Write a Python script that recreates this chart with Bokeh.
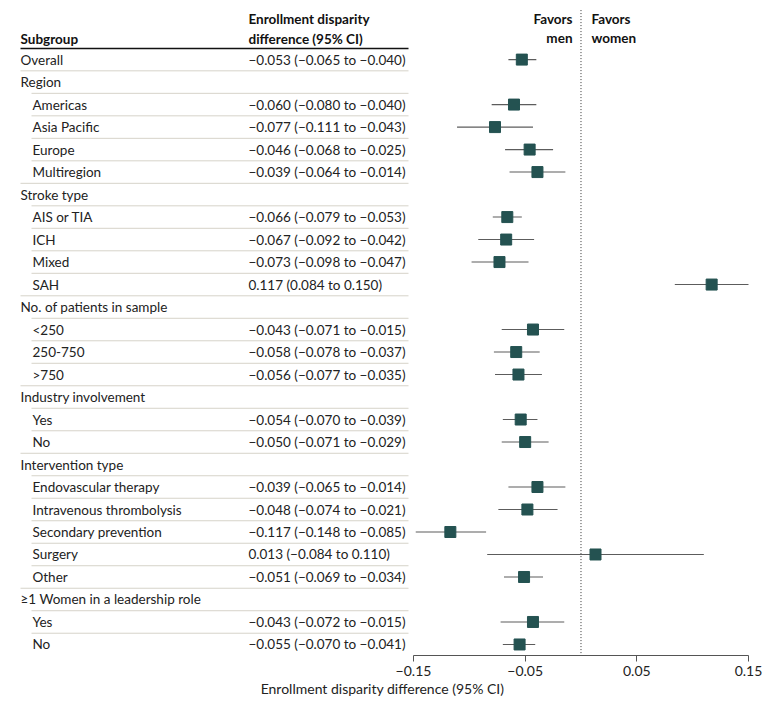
from bokeh.plotting import figure
from bokeh.models import Range1d, FixedTicker, ColumnDataSource
from bokeh.core.properties import value
from bokeh.embed import file_html
from bokeh.resources import INLINE

# ---------------- data ----------------
labels = ["Overall", "Region", "Americas", "Asia Pacific", "Europe", "Multiregion",
          "Stroke type", "AIS or TIA", "ICH", "Mixed", "SAH",
          "No. of patients in sample", "<250", "250-750", ">750",
          "Industry involvement", "Yes", "No",
          "Intervention type", "Endovascular therapy", "Intravenous thrombolysis",
          "Secondary prevention", "Surgery", "Other",
          "\u22651 Women in a leadership role", "Yes", "No"]
level = [0, 0, 1, 1, 1, 1, 0, 1, 1, 1, 1, 0, 1, 1, 1, 0, 1, 1, 0, 1, 1, 1, 1, 1, 0, 1, 1]
est = [-0.053, None, -0.060, -0.077, -0.046, -0.039, None, -0.066, -0.067, -0.073, 0.117,
       None, -0.043, -0.058, -0.056, None, -0.054, -0.050, None, -0.039, -0.048, -0.117,
       0.013, -0.051, None, -0.043, -0.055]
lo = [-0.065, None, -0.080, -0.111, -0.068, -0.064, None, -0.079, -0.092, -0.098, 0.084,
      None, -0.071, -0.078, -0.077, None, -0.070, -0.071, None, -0.065, -0.074, -0.148,
      -0.084, -0.069, None, -0.072, -0.070]
hi = [-0.040, None, -0.040, -0.043, -0.025, -0.014, None, -0.053, -0.042, -0.047, 0.150,
      None, -0.015, -0.037, -0.035, None, -0.039, -0.029, None, -0.014, -0.021, -0.085,
      0.110, -0.034, None, -0.015, -0.041]
tick_values = [-0.15, -0.05, 0.05, 0.15]
tick_labels = ["\u22120.15", "\u22120.05", "0.05", "0.15"]

# ---------------- styling constants ----------------
FONT = "Lato"
FS = "13.5px"
TXT = "#222222"
SQ = "#245251"
CI = "#5c5c5c"
SEP = "#d6d3c9"
W, H = 764, 699
Y_BOTTOM = 26.49


def fmt(v):
    return f"{v:.3f}".replace("-", "\u2212")


p = figure(width=W, height=H, output_backend="svg", toolbar_location=None,
           x_range=Range1d(-0.51985, 0.16433), y_range=Range1d(Y_BOTTOM, -2.627),
           y_axis_location=None, min_border_left=0, min_border_right=0,
           min_border_top=0, min_border_bottom=0)
p.extra_x_ranges = {"tbl": Range1d(0, 764)}
p.outline_line_color = None
p.xgrid.visible = False
p.ygrid.visible = False
p.background_fill_color = "white"
p.border_fill_color = "white"

rows = list(range(len(labels)))

# separator lines
sx0, sx1, sy = [], [], []
for r in rows[:-1]:
    sx0.append(31 if level[r + 1] == 1 else 20)
    sx1.append(408)
    sy.append(r + 0.5)
p.segment(x0=sx0, y0=sy, x1=sx1, y1=sy, x_range_name="tbl", line_color=SEP, line_width=1)
p.segment(x0=[20], y0=[-0.49], x1=[408], y1=[-0.49], x_range_name="tbl",
          line_color="#111111", line_width=1.5)

# table text
lab_src = ColumnDataSource(dict(x=[20 if l == 0 else 32 for l in level], y=rows, t=labels))
p.text(x="x", y="y", text="t", source=lab_src, x_range_name="tbl",
       text_font=value(FONT), text_font_size=FS, text_color=TXT,
       text_baseline="middle", text_align="left")

ci_rows = [r for r in rows if est[r] is not None]
ci_txt = [f"{fmt(est[r])} ({fmt(lo[r])} to {fmt(hi[r])})" for r in ci_rows]
p.text(x=[248] * len(ci_rows), y=ci_rows, text=ci_txt, x_range_name="tbl",
       text_font=value(FONT), text_font_size=FS, text_color=TXT,
       text_baseline="middle", text_align="left")

# headers
hdr_style = dict(text_font=value(FONT), text_font_size=FS, text_color="#111111",
                 text_font_style="bold", text_baseline="middle")
p.text(x=[20], y=[-0.935], text=["Subgroup"], x_range_name="tbl", text_align="left", **hdr_style)
p.text(x=[248, 248], y=[-1.825, -0.935], text=["Enrollment disparity", "difference (95% CI)"],
       x_range_name="tbl", text_align="left", **hdr_style)
p.text(x=[572, 572], y=[-1.825, -0.98], text=["Favors", "men"], x_range_name="tbl",
       text_align="right", **hdr_style)
p.text(x=[591, 591], y=[-1.825, -0.98], text=["Favors", "women"], x_range_name="tbl",
       text_align="left", **hdr_style)

# reference line (from just above the headers to the axis)
p.segment(x0=[0], y0=[-2.2], x1=[0], y1=[Y_BOTTOM], line_color="#333333",
          line_dash="1 2", line_width=1)

# forest marks
src = ColumnDataSource(dict(y=ci_rows, e=[est[r] for r in ci_rows],
                            lo=[lo[r] for r in ci_rows], hi=[hi[r] for r in ci_rows]))
p.segment(x0="lo", y0="y", x1="hi", y1="y", source=src, line_color=CI, line_width=1.1)
p.scatter(x="e", y="y", source=src, marker="square", size=11, fill_color=SQ,
          line_color=SQ)

# axis
ax = p.xaxis[0]
ax.ticker = FixedTicker(ticks=tick_values)
ax.major_label_overrides = {v: s for v, s in zip(tick_values, tick_labels)}
ax.bounds = (-0.15, 0.15)
ax.axis_label = "Enrollment disparity difference (95% CI)"
ax.axis_label_text_font = FONT
ax.axis_label_text_font_size = "14px"
ax.axis_label_text_font_style = "normal"
ax.axis_label_text_color = TXT
ax.axis_label_standoff = 1
ax.major_label_text_font = FONT
ax.major_label_text_font_size = "14px"
ax.major_label_text_color = TXT
ax.major_label_standoff = 4
ax.axis_line_color = "#555555"
ax.axis_line_width = 1.2
ax.major_tick_line_color = "#555555"
ax.major_tick_out = 6
ax.major_tick_in = 0
ax.minor_tick_line_color = None

open("out.html", "w").write(file_html(p, INLINE))
